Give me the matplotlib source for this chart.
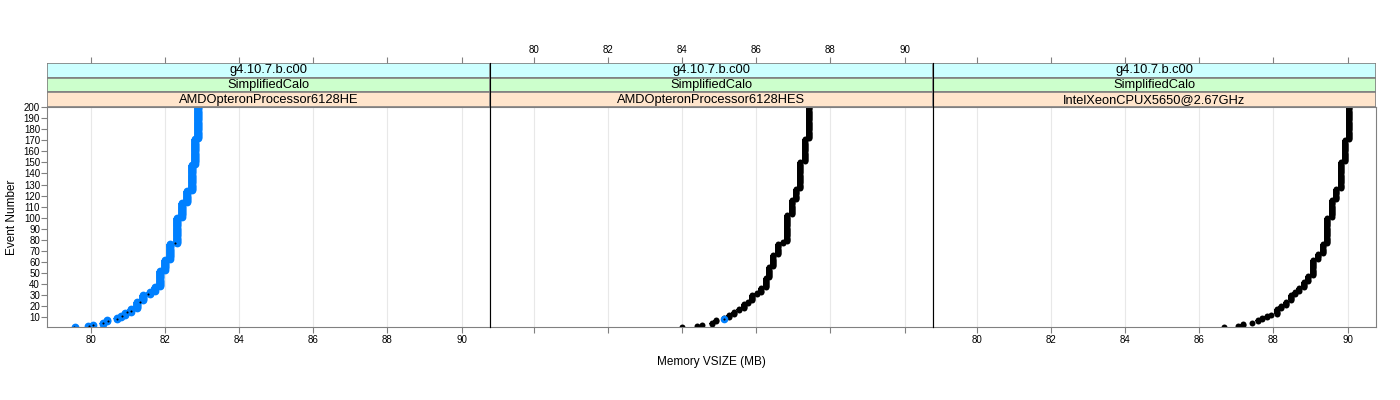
import numpy as np
import matplotlib
matplotlib.use("Agg")
from matplotlib import pyplot as plt
from matplotlib.patches import Rectangle

plt.rcParams['font.family'] = ['Liberation Sans', 'DejaVu Sans']

# step levels: first event of each level and the memory value (MB)
p1_start = [1, 2, 3, 4, 6, 8, 10, 12, 15, 18, 25, 31, 34, 38, 53, 63, 77, 101, 114, 125, 149, 172]
p1_mem = [79.55, 79.91, 80.05, 80.32, 80.43, 80.68, 80.79, 80.91, 81.07, 81.22, 81.40,
          81.58, 81.72, 81.85, 81.99, 82.12, 82.30, 82.44, 82.58, 82.71, 82.80, 82.89]
p1_dot_ev = [1, 2, 3, 4.5, 6.6, 8.4, 11, 14.4, 15.8, 23.4, 31, 76.7]
p1_dot_mem = [79.53, 79.94, 80.05, 80.32, 80.45, 80.68, 80.82, 80.95, 81.06, 81.31, 81.54, 82.26]

p2_start = [1, 2, 3, 4, 6, 8, 10, 13, 16, 18, 23, 25, 31, 33, 37, 46, 56, 67, 77, 79,
            103, 117, 127, 151, 172]
p2_mem = [84.00, 84.39, 84.52, 84.79, 84.91, 85.13, 85.27, 85.40, 85.52, 85.65, 85.77,
          85.89, 86.01, 86.13, 86.25, 86.35, 86.46, 86.58, 86.71, 86.82, 86.96, 87.07,
          87.18, 87.30, 87.43]
p2_blue_ev = [8]
p2_blue_mem = [85.13]

p3_start = [1, 2, 3, 5, 6, 8, 10, 12, 13, 18, 21, 25, 31, 34, 37, 43, 48, 63, 68, 77,
            101, 117, 127, 151, 171]
p3_mem = [86.65, 87.05, 87.17, 87.43, 87.57, 87.69, 87.82, 87.94, 88.09, 88.21, 88.34,
          88.47, 88.59, 88.70, 88.83, 88.93, 89.06, 89.19, 89.33, 89.45, 89.58, 89.70,
          89.83, 89.94, 90.05]

strips = [["g4.10.7.b.c00", "SimplifiedCalo", "AMDOpteronProcessor6128HE"],
          ["g4.10.7.b.c00", "SimplifiedCalo", "AMDOpteronProcessor6128HES"],
          ["g4.10.7.b.c00", "SimplifiedCalo", "IntelXeonCPUX5650@2.67GHz"]]
strip_cols = ["#ccffff", "#ccffcc", "#ffe5cc"]
xticks = [80, 82, 84, 86, 88, 90]
yticks = list(range(10, 201, 10))
n_events = 200


def expand(starts, mems):
    counts = np.diff(starts + [n_events + 1])
    ev = np.arange(1, n_events + 1)
    return np.repeat(mems, counts), ev


def draw_steps(ax, starts, mems, color, ms):
    # dots for every event, plus a solid bar over each run of equal values
    m, ev = expand(starts, mems)
    ax.plot(m, ev, 'o', color=color, ms=ms, mew=0)
    ends = starts[1:] + [n_events + 1]
    for s, e, v in zip(starts, ends, mems):
        if e - 1 > s:
            ax.vlines(v, s, e - 1, color=color, lw=ms, capstyle='butt')


W, H = 1400, 400
fig = plt.figure(figsize=(14, 4), dpi=100)
left, pw = 47, 443
ptop, pbot = 107, 327
stop = 63
frame = "#808080"

for i in range(3):
    x0 = left + i * pw
    ax = fig.add_axes([x0 / W, 1 - pbot / H, pw / W, (pbot - ptop) / H])
    ax.set_xlim(78.8, 90.77)
    ax.set_ylim(1.0, 200.2)
    ax.set_xticks(xticks)
    ax.set_yticks(yticks)
    ax.grid(axis='x', color='#e8e8e8', lw=0.8)
    ax.set_axisbelow(True)
    for s in ax.spines.values():
        s.set_color(frame)
        s.set_linewidth(0.8)
    ax.tick_params(direction='out', length=4, width=0.8, color=frame, labelsize=7, pad=2)
    ax.tick_params(axis='y', labelsize=7, pad=1)
    if i != 0:
        ax.tick_params(axis='y', left=False, labelleft=False)
    if i == 1:
        ax.tick_params(axis='x', labelbottom=False)

    if i == 0:
        draw_steps(ax, p1_start, p1_mem, '#0080ff', 5.6)
        ax.plot(p1_dot_mem, p1_dot_ev, 'o', color='black', ms=1.5, mew=0)
    elif i == 1:
        draw_steps(ax, p2_start, p2_mem, 'black', 4.3)
        ax.plot(p2_blue_mem, p2_blue_ev, 'o', color='#0080ff', ms=5.5, mew=0)
        ax.plot(p2_blue_mem, p2_blue_ev, 'o', color='black', ms=1.5, mew=0)
    else:
        draw_steps(ax, p3_start, p3_mem, 'black', 4.3)

    # strips above the panel
    sax = fig.add_axes([x0 / W, 1 - ptop / H, pw / W, (ptop - stop) / H])
    sax.set_xlim(78.8, 90.77)
    sax.set_ylim(0, 3)
    for k in range(3):
        sax.add_patch(Rectangle((78.8, 2 - k), 90.77 - 78.8, 1, facecolor=strip_cols[k],
                                edgecolor=frame, lw=1.2))
        sax.text(84.785, 2.5 - k, strips[i][k], ha='center', va='center', fontsize=9.3)
    sax.set_yticks([])
    sax.set_xticks(xticks)
    sax.xaxis.tick_top()
    sax.tick_params(axis='x', direction='out', length=4, width=0.8, color=frame,
                    labelsize=7, pad=2, labeltop=(i == 1), bottom=False, labelbottom=False)
    for s in sax.spines.values():
        s.set_visible(False)

# black separators between panels
for i in (1, 2):
    xf = (left + i * pw) / W
    fig.add_artist(plt.Line2D([xf, xf], [1 - pbot / H, 1 - stop / H], color='black', lw=0.8))

fig.text((left + 1.5 * pw) / W, 1 - 362 / H, "Memory VSIZE (MB)", ha='center', va='center', fontsize=8.5)
fig.text(12 / W, 1 - 217 / H, "Event Number", ha='center', va='center', rotation=90, fontsize=8.5)

fig.savefig("out.png", dpi=100)
